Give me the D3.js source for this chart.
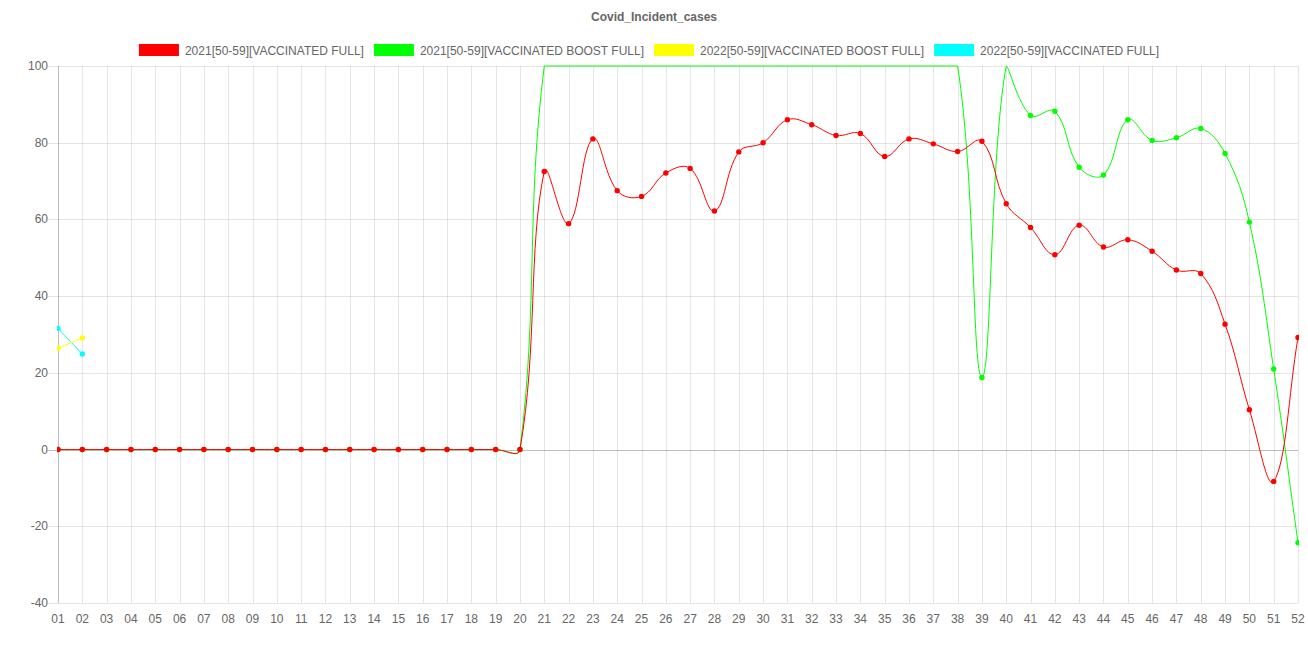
<!DOCTYPE html>
<html><head><meta charset="utf-8">
<script src="https://cdn.jsdelivr.net/npm/d3@7"></script>
<style>body{margin:0;background:#fff}svg{display:block}text{font-family:"Liberation Sans",Arial,Helvetica,sans-serif}</style>
</head><body><svg id="c" width="1308" height="654"></svg><script>
const title = "Covid_Incident_cases";
const weeks = ["01","02","03","04","05","06","07","08","09","10","11","12","13","14","15","16","17","18","19","20","21","22","23","24","25","26","27","28","29","30","31","32","33","34","35","36","37","38","39","40","41","42","43","44","45","46","47","48","49","50","51","52"];
const seriesNames = ["2021[50-59][VACCINATED FULL]","2021[50-59][VACCINATED BOOST FULL]","2022[50-59][VACCINATED BOOST FULL]","2022[50-59][VACCINATED FULL]"];
const seriesColors = ["#ff0000","#00ff00","#ffff00","#00ffff"];
const red2021Full = [0,0,0,0,0,0,0,0,0,0,0,0,0,0,0,0,0,0,0,0,72.5,58.9,81.0,67.5,66.0,72.1,73.3,62.2,77.6,80.0,86.0,84.7,81.9,82.4,76.4,81.0,79.7,77.7,80.4,64.1,57.9,50.8,58.5,52.8,54.7,51.7,46.8,45.9,32.7,10.4,-8.3,29.2];
const green2021Boost = [0,0,0,0,0,0,0,0,0,0,0,0,0,0,0,0,0,0,0,0,100,100,100,100,100,100,100,100,100,100,100,100,100,100,100,100,100,100,18.8,100,87.1,88.2,73.6,71.6,86.0,80.6,81.3,83.7,77.2,59.3,21.0,-24.3];
const yellow2022Boost = [26.4,29.1];
const cyan2022Full = [31.6,24.9];
const yTicks = [-40,-20,0,20,40,60,80,100];
const yDomain = [-40,100];

const seriesValues = [red2021Full, green2021Boost, yellow2022Boost, cyan2022Full];
const svg = d3.select("#c");
const W = 1308;
const area = {left:58, right:1298, top:66, bottom:603};
const x = d3.scalePoint().domain(weeks).range([area.left, area.right]);
const y = d3.scaleLinear().domain(yDomain).range([area.bottom, area.top]);

// title
svg.append("text").attr("x", W/2).attr("y", 21).attr("text-anchor","middle")
  .attr("font-size",12).attr("font-weight","bold").attr("fill","#666").text(title);

// legend
const lg = svg.append("g");
const items = seriesNames.map((n,i)=>{
  const t = lg.append("text").attr("font-size",12).attr("fill","#666").text(n);
  return {t, w: t.node().getComputedTextLength(), i};
});
let total = 0; items.forEach(it=> total += 40 + 6 + it.w + 10);
let cx = W/2 - total/2;
items.forEach(it=>{
  lg.append("rect").attr("x",cx).attr("y",44).attr("width",40).attr("height",12).attr("fill",seriesColors[it.i]);
  it.t.attr("x", cx+46).attr("y", 54.5);
  cx += 40 + 6 + it.w + 10;
});

// grid
const grid = svg.append("g");
yTicks.forEach(v=>{
  grid.append("line").attr("x1",area.left-10).attr("x2",area.right).attr("y1",Math.round(y(v))+0.5).attr("y2",Math.round(y(v))+0.5)
    .attr("stroke", v===0 ? "rgba(0,0,0,0.25)" : "rgba(0,0,0,0.1)").attr("stroke-width",1);
  grid.append("text").attr("x",area.left-10).attr("y",y(v)+4).attr("text-anchor","end")
    .attr("font-size",12).attr("fill","#666").text(v);
});
weeks.forEach((w,i)=>{
  const xx = Math.round(x(w))+0.5;
  grid.append("line").attr("x1",xx).attr("x2",xx).attr("y1",area.top).attr("y2",area.bottom)
    .attr("stroke", i===0 ? "rgba(0,0,0,0.25)" : "rgba(0,0,0,0.1)").attr("stroke-width",1);
  grid.append("text").attr("x",x(w)).attr("y",area.bottom+20).attr("text-anchor","middle")
    .attr("font-size",12).attr("fill","#666").text(w);
});

// clip
svg.append("clipPath").attr("id","clip").append("rect")
  .attr("x",area.left-1).attr("y",area.top-1).attr("width",area.right-area.left+2).attr("height",area.bottom-area.top+2);

function splinePath(pts, t){
  const n = pts.length;
  if (n < 2) return null;
  const cap = (v,lo,hi)=>Math.max(lo,Math.min(hi,v));
  const cps = pts.map((p,i)=>{
    const prev = pts[i-1]||p, next = pts[i+1]||p;
    const d01 = Math.hypot(p.x-prev.x,p.y-prev.y), d12 = Math.hypot(next.x-p.x,next.y-p.y);
    let s01 = d01/(d01+d12), s12 = d12/(d01+d12);
    if (isNaN(s01)) s01 = 0; if (isNaN(s12)) s12 = 0;
    const fa = t*s01, fb = t*s12;
    return {
      px: cap(p.x - fa*(next.x-prev.x), area.left, area.right),
      py: cap(p.y - fa*(next.y-prev.y), area.top, area.bottom),
      nx: cap(p.x + fb*(next.x-prev.x), area.left, area.right),
      ny: cap(p.y + fb*(next.y-prev.y), area.top, area.bottom)
    };
  });
  let d = `M${pts[0].x},${pts[0].y}`;
  for (let i=1;i<n;i++){
    d += `C${cps[i-1].nx},${cps[i-1].ny},${cps[i].px},${cps[i].py},${pts[i].x},${pts[i].y}`;
  }
  return d;
}

const plot = svg.append("g").attr("clip-path","url(#clip)");
// draw in reverse order so first dataset is on top
for (let s = seriesValues.length-1; s>=0; s--){
  const vals = seriesValues[s];
  const pts = vals.map((v,i)=>({x:x(weeks[i]), y:y(v), v})).filter(p=>p.v!=null);
  const g = plot.append("g");
  g.append("path").attr("d", splinePath(pts, 0.4)).attr("fill","none")
    .attr("stroke", seriesColors[s]).attr("stroke-width",1);
  g.selectAll("circle").data(pts.filter(p=>p.v < yDomain[1])).join("circle")
    .attr("cx",d=>d.x).attr("cy",d=>d.y).attr("r",2.7).attr("fill",seriesColors[s]);
}
</script></body></html>
